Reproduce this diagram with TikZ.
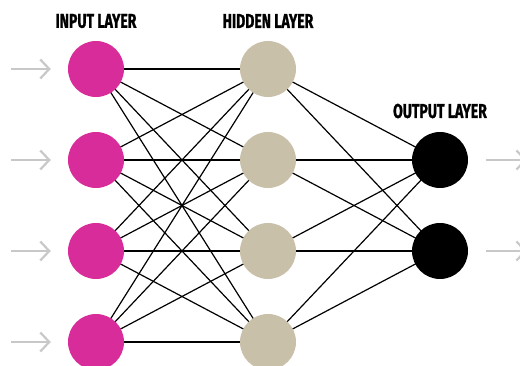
\documentclass[tikz,border=0pt]{standalone}
\usepackage{fontspec}
\setmainfont{Fira Sans}
\newfontfamily\labelfont[FakeStretch=0.7,FakeBold=1.2]{Fira Sans}
\usetikzlibrary{arrows.meta}
\definecolor{inmag}{HTML}{D92C9B}
\definecolor{hidbeige}{HTML}{C9C0AA}
\definecolor{arrgray}{HTML}{C8C8C8}
\pgfdeclarelayer{bg}\pgfsetlayers{bg,main}
\tikzset{
  x=1pt,y=-1pt,
  neuron/.style={circle,minimum size=56pt,inner sep=0pt,draw=none},
  inneuron/.style={neuron,fill=inmag},
  hidneuron/.style={neuron,fill=hidbeige},
  outneuron/.style={neuron,fill=black},
  link/.style={line width=1.2pt,black},
  feed/.style={line width=2.2pt,arrgray,-{Straight Barb[length=9pt,width=19pt,line width=2.2pt]}},
  layerlabel/.style={font=\labelfont\bfseries\fontsize{20}{20}\selectfont,inner sep=0pt}
}
\begin{document}
\begin{tikzpicture}
\useasboundingbox (0,0) rectangle (520,366);
\foreach \i/\y in {1/69,2/160,3/251,4/342}{
  \node[inneuron] (i\i) at (96,\y) {};
  \node[hidneuron] (h\i) at (268,\y) {};
}
\node[outneuron] (o1) at (440,160) {};
\node[outneuron] (o2) at (440,251) {};
\begin{pgfonlayer}{bg}
\foreach \a in {1,...,4}{
  \foreach \b in {1,...,4}{
    \draw[link] (i\a.center) -- (h\b.center);
  }
  \foreach \b in {1,2}{
    \draw[link] (h\a.center) -- (o\b.center);
  }
}
\end{pgfonlayer}
\foreach \i/\y in {1/69,2/160,3/251,4/342}{
  \coordinate (s\i) at (11,\y);
  \draw[feed] (s\i) -- ([xshift=-17pt]i\i.west);
}
\coordinate (e1) at (527,160);
\coordinate (e2) at (527,251);
\draw[feed] ([xshift=18pt]o1.east) -- (e1);
\draw[feed] ([xshift=18pt]o2.east) -- (e2);
\node[layerlabel] (li) at (96,21) {INPUT LAYER};
\node[layerlabel] (lh) at (268,21) {HIDDEN LAYER};
\node[layerlabel] (lo) at (440,111) {OUTPUT LAYER};
\end{tikzpicture}
\end{document}
